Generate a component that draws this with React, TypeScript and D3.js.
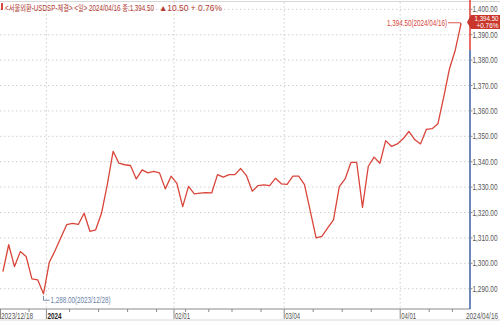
import React from "react";
import * as d3 from "d3";

const dates: string[] = [
  "2023/12/18","2023/12/19","2023/12/20","2023/12/21","2023/12/22","2023/12/26","2023/12/27","2023/12/28",
  "2024/01/02","2024/01/03","2024/01/04","2024/01/05","2024/01/08","2024/01/09","2024/01/10","2024/01/11","2024/01/12",
  "2024/01/15","2024/01/16","2024/01/17","2024/01/18","2024/01/19","2024/01/22","2024/01/23","2024/01/24","2024/01/25","2024/01/26",
  "2024/01/29","2024/01/30","2024/01/31",
  "2024/02/01","2024/02/02","2024/02/05","2024/02/06","2024/02/07","2024/02/08","2024/02/13","2024/02/14","2024/02/15","2024/02/16",
  "2024/02/19","2024/02/20","2024/02/21","2024/02/22","2024/02/23","2024/02/26","2024/02/27","2024/02/28","2024/02/29",
  "2024/03/04","2024/03/05","2024/03/06","2024/03/07","2024/03/08","2024/03/11","2024/03/12","2024/03/13","2024/03/14","2024/03/15",
  "2024/03/18","2024/03/19","2024/03/20","2024/03/21","2024/03/22","2024/03/25","2024/03/26","2024/03/27","2024/03/28","2024/03/29",
  "2024/04/01","2024/04/02","2024/04/03","2024/04/04","2024/04/05","2024/04/08","2024/04/09","2024/04/11","2024/04/12","2024/04/15","2024/04/16",
];

const closes: number[] = [
  1296.7, 1307.3, 1298.7, 1304.6, 1302.7, 1293.9, 1293.5, 1288.0,
  1300.4, 1305.0, 1310.2, 1315.2, 1315.7, 1315.3, 1319.7, 1312.6, 1313.2,
  1319.7, 1331.0, 1344.1, 1339.4, 1338.8, 1338.5, 1333.2, 1336.8, 1335.6, 1336.2,
  1335.6, 1329.3, 1334.3,
  1331.5, 1322.3, 1330.3, 1327.3, 1327.6, 1327.8, 1327.7, 1334.9, 1333.9, 1334.9,
  1334.9, 1337.3, 1334.5, 1328.4, 1330.6, 1330.9, 1330.6, 1333.5, 1331.3,
  1331.1, 1334.3, 1334.3, 1331.0, 1320.5, 1310.0, 1310.6, 1313.9, 1317.1, 1330.2,
  1333.2, 1339.7, 1339.7, 1322.0, 1338.2, 1341.8, 1339.4, 1348.3, 1346.0, 1347.0,
  1349.0, 1351.9, 1348.7, 1347.0, 1352.7, 1353.0, 1354.9, 1365.4, 1376.6, 1384.0, 1394.5,
];

const yTicks: number[] = [1290, 1300, 1310, 1320, 1330, 1340, 1350, 1360, 1370, 1380, 1390, 1400];
const monthMarks: { date: string; label: string; bold?: boolean }[] = [
  { date: "2024/01/02", label: "2024", bold: true },
  { date: "2024/02/01", label: "02/01" },
  { date: "2024/03/04", label: "03/04" },
  { date: "2024/04/01", label: "04/01" },
];
const weekStarts: string[] = [
  "2023/12/26","2024/01/08","2024/01/15","2024/01/22","2024/01/29","2024/02/05","2024/02/13","2024/02/19","2024/02/26",
  "2024/03/11","2024/03/18","2024/03/25","2024/04/08","2024/04/15",
];
const title = "<서울외환-USDSP-체결> <일> 2024/04/16 종:1,394.50";
const changeText = "▲10.50  + 0.76%";
const prevClose = 1384.0;

const FONT = "'Liberation Sans', Arial, 'Noto Sans CJK KR', sans-serif";

type TProps = { x: number; y: number; w: number; size?: number; fill?: string; anchor?: string; bold?: boolean; children: string };
function T({ x, y, w, size = 8.5, fill = "#555", anchor = "start", bold = false, children }: TProps) {
  return (
    <text x={x} y={y} fontSize={size} fill={fill} textAnchor={anchor} fontWeight={bold ? "bold" : "normal"}
      textLength={w} lengthAdjust="spacingAndGlyphs">
      {children}
    </text>
  );
}

export default function App() {
  const W = 500, H = 321;
  const x = d3.scaleBand<string>().domain(dates).range([0, 464]);
  const bw = x.bandwidth();
  const cx = (d: string) => (x(d) as number) + bw / 2;
  const y = d3.scaleLinear().domain([1290, 1400]).range([288.7, 9.3]);
  const axisY = 309;
  const rightX = 470;

  const data = dates.map((d, i) => ({ d, v: closes[i] }));
  const line = d3.line<{ d: string; v: number }>().x((p) => cx(p.d)).y((p) => y(p.v));

  const last = data[data.length - 1];
  const minIdx = d3.minIndex(closes);
  const minP = data[minIdx];
  const fmt = d3.format(",.2f");

  const lx = cx(last.d), ly = y(last.v);
  const mx = cx(minP.d), my = y(minP.v);

  return (
    <svg width={W} height={H} style={{ position: "absolute", left: 0, top: 0, background: "#fff" }} fontFamily={FONT}>
      {/* borders */}
      <line x1={0} x2={W} y1={1.5} y2={1.5} stroke="#d8d8d8" />
      <line x1={0} x2={W} y1={H - 1} y2={H - 1} stroke="#d8d8d8" />
      {/* horizontal grid */}
      {yTicks.map((t) => (
        <line key={t} x1={0} x2={rightX} y1={y(t)} y2={y(t)} stroke="#cfcfcf" strokeDasharray="1.5,2.5" />
      ))}
      {/* vertical grid */}
      {monthMarks.map((m) => (
        <line key={m.date} x1={x(m.date) as number} x2={x(m.date) as number} y1={2} y2={axisY} stroke="#cfcfcf" strokeDasharray="1.5,2.5" />
      ))}
      {/* bottom axis */}
      <line x1={0} x2={rightX} y1={axisY} y2={axisY} stroke="#8a8a8a" />
      {weekStarts.map((w) => (
        <line key={w} x1={x(w) as number} x2={x(w) as number} y1={axisY} y2={axisY + 3} stroke="#8a8a8a" />
      ))}
      <line x1={0.5} x2={0.5} y1={axisY} y2={axisY + 10} stroke="#8a8a8a" />
      <T x={1} y={318.5} w={32}>{dates[0]}</T>
      {monthMarks.map((m) => (
        <g key={m.label}>
          <line x1={x(m.date) as number} x2={x(m.date) as number} y1={axisY} y2={axisY + 10} stroke="#8a8a8a" />
          <T x={(x(m.date) as number) + 1} y={318.5} w={m.bold ? 14 : 15} fill={m.bold ? "#222" : "#555"} bold={m.bold}>
            {m.label}
          </T>
        </g>
      ))}
      <T x={498} y={318.5} w={32} anchor="end">{last.d}</T>

      {/* right axis line */}
      <line x1={rightX} x2={rightX} y1={y(prevClose)} y2={axisY} stroke="#3b5fa6" strokeWidth={1.5} />
      <line x1={rightX} x2={rightX} y1={0} y2={y(prevClose)} stroke="#e03c31" strokeWidth={1.5} />
      {yTicks.map((t) => (
        <g key={t}>
          <line x1={rightX} x2={rightX + 2.5} y1={y(t)} y2={y(t)} stroke="#8a8a8a" />
          <T x={472.5} y={y(t) + 3} w={25}>{fmt(t)}</T>
        </g>
      ))}

      {/* price line */}
      <path d={line(data) || ""} fill="none" stroke="#d9453a" strokeWidth={1.3} strokeLinejoin="round" />

      {/* last price tag */}
      <polygon points={`${rightX - 3},${ly - 1} ${rightX + 1},15 500,15 500,29 ${rightX + 1},29`} fill="#c9362b" />
      <T x={498.5} y={21.3} w={24} size={7.5} fill="#fff" anchor="end">{fmt(last.v)}</T>
      <T x={498.5} y={28} w={22} size={7.5} fill="#fff" anchor="end">+0.76%</T>

      {/* max annotation */}
      <T x={447} y={ly + 2.5} w={60} fill="#d9453a" anchor="end">{`${fmt(last.v)}(${last.d})`}</T>
      <path d={`M448,${ly - 0.5} H${lx - 0.5} V${ly + 3}`} fill="none" stroke="#d9453a" strokeWidth={0.9} />

      {/* min annotation */}
      <path d={`M${mx},${my + 2} V${my + 6.5} H${mx + 6}`} fill="none" stroke="#6a7fa8" strokeWidth={0.9} />
      <T x={mx + 7} y={my + 9.5} w={60} fill="#6a7fa8">{`${fmt(minP.v)}(${minP.d})`}</T>

      {/* title */}
      <rect x={1} y={3} width={2} height={7} fill="#d9453a" />
      <T x={5} y={10.5} w={149} size={8.5} fill="#b23a30">{title}</T>
      <T x={159} y={10.5} w={63} size={8.5} fill="#b23a30">{changeText}</T>
    </svg>
  );
}
